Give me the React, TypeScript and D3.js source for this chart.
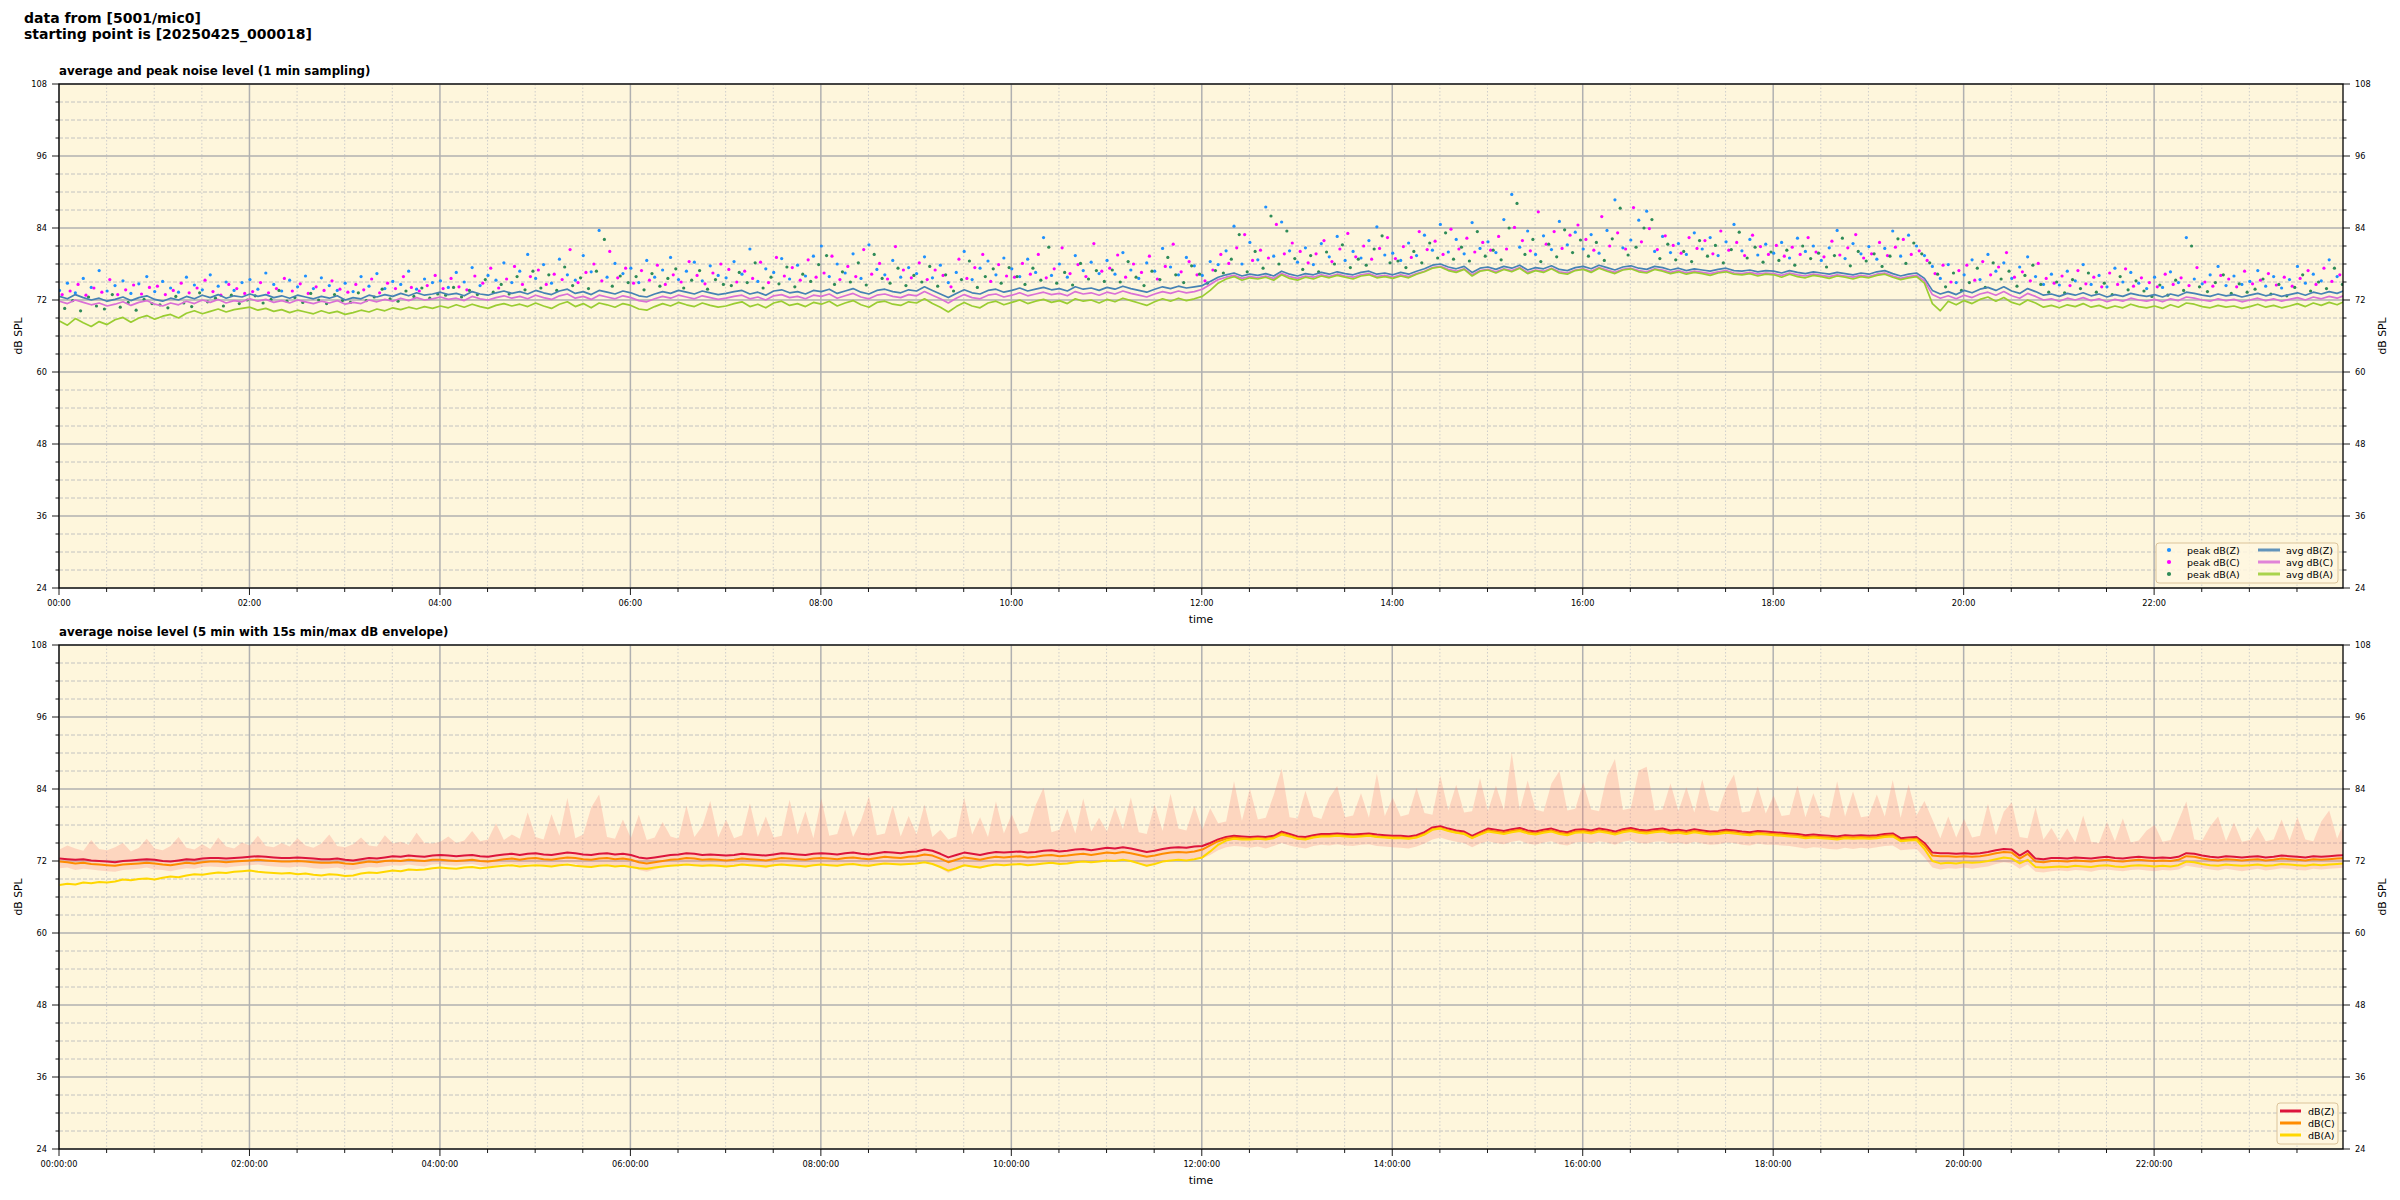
import React from 'react';
import * as d3 from 'd3';

// ---------- time base ----------
const START = new Date(2025, 3, 25, 0, 0, 0);
const END = new Date(2025, 3, 25, 23, 59, 0);
const STEP_MIN = 5;
const FIRST_SEC = 18;
const Y_MIN = 24;
const Y_MAX = 108;

const mainTitle = ['data from [5001/mic0]', 'starting point is [20250425_000018]'];
const topTitle = 'average and peak noise level (1 min sampling)';
const bottomTitle = 'average noise level (5 min with 15s min/max dB envelope)';
const topLegendPeak = ['peak dB(Z)', 'peak dB(C)', 'peak dB(A)'];
const topLegendAvg = ['avg dB(Z)', 'avg dB(C)', 'avg dB(A)'];
const bottomLegend = ['dB(Z)', 'dB(C)', 'dB(A)'];

// minute at which each peak series was read inside every 5-min slot
const peakReadOffsetMin = [0, 1.7, 3.3];

// ---------- top panel (1 min sampling, read every 5 min) ----------
const topAvgZ = [
  72.6, 72.2, 72.9, 72.4, 72.0, 72.3, 71.8, 72.1, 72.5, 71.9, 72.4, 72.7,
  72.1, 71.8, 72.3, 72.0, 72.6, 72.2, 72.8, 72.4, 72.9, 72.3, 72.7, 72.5,
  73.0, 72.6, 72.9, 72.4, 72.7, 72.3, 72.8, 72.5, 72.2, 72.6, 72.3, 72.7,
  72.0, 72.4, 72.2, 72.8, 72.5, 72.9, 72.6, 73.1, 72.7, 73.2, 72.8, 73.0,
  73.3, 72.9, 73.1, 72.7, 73.4, 73.0, 72.8, 73.2, 73.5, 73.1, 73.4, 73.0,
  73.6, 73.2, 72.9, 73.5, 73.8, 73.1, 73.4, 72.9, 73.6, 73.3, 73.0, 73.5,
  73.2, 72.7, 72.5, 73.0, 73.4, 73.1, 73.6, 73.3, 73.0, 73.5, 73.2, 72.9,
  73.1, 73.4, 73.6, 73.0, 73.3, 72.8, 73.5, 73.7, 73.2, 73.4, 73.0, 73.6,
  73.4, 73.8, 73.1, 73.5, 73.9, 73.3, 73.0, 73.6, 73.8, 73.4, 73.2, 73.7,
  73.5, 74.2, 73.6, 73.0, 72.4, 73.1, 73.7, 73.2, 73.0, 73.6, 73.8, 73.3,
  73.6, 74.0, 73.5, 73.8, 74.1, 73.7, 73.9, 73.5, 74.2, 73.8, 74.0, 73.6,
  74.1, 73.8, 74.3, 73.9, 73.6, 73.3, 73.8, 74.2, 73.9, 74.3, 74.0, 74.2,
  74.4, 75.1, 75.8, 76.2, 76.5, 76.0, 76.3, 76.1, 76.4, 76.0, 76.8, 76.3,
  76.0, 76.4, 76.2, 76.6, 76.3, 76.7, 76.4, 76.2, 76.6, 76.8, 76.3, 76.5,
  76.2, 76.6, 76.3, 76.8, 77.2, 77.8, 78.0, 77.5, 77.2, 77.6, 76.6, 77.3,
  77.5, 77.1, 77.6, 77.3, 77.8, 77.0, 77.4, 77.2, 77.7, 77.1, 76.9, 77.4,
  77.6, 77.2, 77.8, 77.4, 77.0, 77.5, 77.7, 77.3, 77.1, 77.6, 77.4, 77.0,
  77.3, 76.9, 77.2, 77.0, 76.8, 77.1, 77.3, 76.9, 76.8, 77.0, 76.7, 76.9,
  76.8, 76.5, 76.9, 76.6, 76.4, 76.7, 76.5, 76.3, 76.6, 76.4, 76.2, 76.5,
  76.3, 76.7, 76.9, 76.4, 76.0, 76.3, 76.5, 75.6, 73.6, 73.0, 73.4, 72.9,
  73.6, 73.2, 73.8, 74.1, 73.6, 74.2, 73.5, 73.1, 73.9, 73.4, 72.8, 73.0,
  72.6, 73.1, 72.8, 73.2, 72.7, 73.0, 72.5, 72.9, 72.6, 73.1, 72.8, 72.6,
  72.9, 72.5, 73.0, 72.7, 73.3, 73.1, 72.8, 72.6, 73.0, 72.7, 72.9, 72.5,
  72.8, 73.1, 72.7, 73.0, 72.6, 72.9, 73.2, 72.8, 73.3, 73.0, 73.4, 73.1,
  73.6,
];
const topAvgC = [
  71.8, 71.4, 72.0, 71.6, 71.2, 71.5, 71.0, 71.3, 71.7, 71.1, 71.6, 71.9,
  71.3, 71.0, 71.5, 71.2, 71.8, 71.4, 72.0, 71.6, 72.1, 71.5, 71.9, 71.7,
  72.2, 71.8, 72.1, 71.6, 71.9, 71.5, 72.0, 71.7, 71.4, 71.8, 71.5, 71.9,
  71.3, 71.6, 71.4, 72.0, 71.7, 72.1, 71.8, 72.3, 71.9, 72.4, 72.0, 72.2,
  72.5, 72.1, 72.3, 71.9, 72.6, 72.2, 72.0, 72.4, 72.7, 72.3, 72.6, 72.2,
  72.8, 72.4, 72.1, 72.7, 73.0, 72.3, 72.6, 72.1, 72.8, 72.5, 72.2, 72.7,
  72.4, 71.9, 71.7, 72.2, 72.6, 72.3, 72.8, 72.5, 72.2, 72.7, 72.4, 72.1,
  72.3, 72.6, 72.8, 72.2, 72.5, 72.0, 72.7, 72.9, 72.4, 72.6, 72.2, 72.8,
  72.6, 73.0, 72.3, 72.7, 73.1, 72.5, 72.2, 72.8, 73.0, 72.6, 72.4, 72.9,
  72.7, 73.4, 72.8, 72.2, 71.5, 72.3, 72.9, 72.4, 72.2, 72.8, 73.0, 72.5,
  72.8, 73.2, 72.7, 73.0, 73.3, 72.9, 73.1, 72.7, 73.4, 73.0, 73.2, 72.8,
  73.3, 73.0, 73.5, 73.1, 72.8, 72.5, 73.0, 73.4, 73.1, 73.5, 73.2, 73.4,
  73.8, 74.6, 75.4, 75.8, 76.1, 75.6, 75.9, 75.7, 76.0, 75.6, 76.4, 75.9,
  75.6, 76.0, 75.8, 76.2, 75.9, 76.3, 76.0, 75.8, 76.2, 76.4, 75.9, 76.1,
  75.8, 76.2, 75.9, 76.4, 76.8, 77.4, 77.6, 77.1, 76.8, 77.2, 76.2, 76.9,
  77.1, 76.7, 77.2, 76.9, 77.4, 76.6, 77.0, 76.8, 77.3, 76.7, 76.5, 77.0,
  77.2, 76.8, 77.4, 77.0, 76.6, 77.1, 77.3, 76.9, 76.7, 77.2, 77.0, 76.6,
  76.9, 76.5, 76.8, 76.6, 76.4, 76.7, 76.9, 76.5, 76.4, 76.6, 76.3, 76.5,
  76.4, 76.1, 76.5, 76.2, 76.0, 76.3, 76.1, 75.9, 76.2, 76.0, 75.8, 76.1,
  75.9, 76.3, 76.5, 76.0, 75.6, 75.9, 76.1, 75.2, 72.9, 72.3, 72.7, 72.2,
  72.8, 72.4, 73.0, 73.3, 72.8, 73.4, 72.7, 72.3, 73.1, 72.6, 72.0, 72.2,
  71.8, 72.3, 72.0, 72.4, 71.9, 72.2, 71.7, 72.1, 71.8, 72.3, 72.0, 71.8,
  72.1, 71.7, 72.2, 71.9, 72.5, 72.3, 72.0, 71.8, 72.2, 71.9, 72.1, 71.7,
  72.0, 72.3, 71.9, 72.2, 71.8, 72.1, 72.4, 72.0, 72.5, 72.2, 72.6, 72.3,
  72.8,
];
const topAvgA = [
  68.5, 67.8, 68.9, 68.2, 67.6, 68.4, 67.9, 68.7, 69.1, 68.3, 69.0, 69.4,
  68.8, 69.3, 69.6, 69.0, 69.8, 70.2, 69.7, 70.1, 70.5, 70.0, 70.4, 70.6,
  70.8, 70.3, 70.6, 70.1, 70.4, 69.9, 70.3, 70.0, 69.7, 70.2, 69.8, 70.1,
  69.6, 69.9, 70.3, 70.0, 70.5, 70.2, 70.7, 70.4, 70.8, 70.5, 70.9, 70.6,
  71.0, 70.7, 71.2, 70.8, 71.3, 70.9, 70.6, 71.1, 71.4, 71.0, 71.3, 70.9,
  71.5, 71.0, 70.6, 71.3, 71.7, 70.9, 71.4, 70.7, 71.5, 71.2, 70.8, 71.4,
  71.1, 70.5, 70.3, 70.9, 71.4, 71.0, 71.6, 71.2, 70.9, 71.5, 71.1, 70.8,
  71.0, 71.4, 71.7, 70.9, 71.3, 70.7, 71.5, 71.8, 71.1, 71.4, 70.9, 71.6,
  71.3, 71.8, 71.0, 71.5, 71.9, 71.2, 70.8, 71.6, 71.8, 71.3, 71.1, 71.7,
  71.5, 72.2, 71.4, 70.8, 70.0, 70.9, 71.6, 71.0, 70.7, 71.5, 71.8, 71.2,
  71.6, 72.0, 71.4, 71.8, 72.1, 71.6, 71.9, 71.4, 72.2, 71.8, 72.0, 71.5,
  72.1, 71.7, 72.3, 71.9, 71.5, 71.1, 71.7, 72.2, 71.8, 72.3, 71.9, 72.2,
  72.6, 73.6, 74.8, 75.5, 75.9, 75.3, 75.7, 75.5, 75.8, 75.3, 76.2, 75.6,
  75.3, 75.8, 75.5, 76.0, 75.7, 76.1, 75.8, 75.5, 76.0, 76.2, 75.7, 75.9,
  75.6, 76.0, 75.7, 76.3, 76.7, 77.3, 77.5, 76.9, 76.6, 77.1, 76.0, 76.8,
  77.0, 76.5, 77.1, 76.7, 77.3, 76.4, 76.9, 76.6, 77.2, 76.5, 76.3, 76.9,
  77.1, 76.6, 77.3, 76.8, 76.4, 77.0, 77.2, 76.7, 76.5, 77.1, 76.8, 76.4,
  76.7, 76.3, 76.6, 76.4, 76.1, 76.5, 76.7, 76.3, 76.2, 76.4, 76.0, 76.3,
  76.2, 75.8, 76.3, 75.9, 75.7, 76.1, 75.9, 75.6, 76.0, 75.8, 75.5, 75.9,
  75.7, 76.1, 76.3, 75.8, 75.4, 75.7, 75.9, 74.8, 71.4, 70.2, 71.8, 71.2,
  71.9, 71.4, 72.1, 72.5, 71.8, 72.4, 71.6, 71.2, 72.0, 71.5, 70.8, 71.1,
  70.7, 71.2, 70.9, 71.4, 70.8, 71.1, 70.6, 71.0, 70.7, 71.3, 70.9, 70.7,
  71.0, 70.6, 71.2, 70.8, 71.5, 71.3, 70.9, 70.7, 71.1, 70.8, 71.0, 70.6,
  70.9, 71.3, 70.8, 71.1, 70.7, 71.0, 71.4, 70.9, 71.5, 71.1, 71.6, 71.2,
  71.8,
];
const topPeakZ = [
  73.6, 74.8, 73.2, 75.6, 74.1, 76.9, 73.5, 74.4, 75.2, 73.1, 74.7, 75.9,
  73.4, 75.1, 74.0, 73.3, 75.8, 74.5, 73.7, 76.2, 74.3, 75.0, 73.6, 74.9,
  75.4, 73.8, 76.5, 74.6, 73.5, 75.3, 74.2, 76.0, 73.9, 75.7, 74.4, 73.6,
  74.8, 73.4, 75.9, 74.3, 76.4, 73.9, 75.1, 74.6, 76.8, 73.8, 75.5, 74.9,
  75.2, 74.1, 76.6, 75.0, 77.4, 74.4, 76.1, 75.3, 78.2, 74.9, 76.8, 79.6,
  75.6, 77.9, 74.8, 78.8, 76.2, 75.3, 79.4, 76.7, 83.6, 75.8, 78.1, 76.4,
  77.3, 74.9, 78.6, 75.8, 77.0, 79.1, 75.4, 76.8, 78.3, 75.2, 77.7, 76.1,
  75.7, 78.4, 76.3, 80.5, 75.1, 77.2, 76.6, 78.9, 75.5, 77.8, 76.0, 79.3,
  81.0, 75.9, 78.0, 76.5, 79.7, 75.6, 81.2, 77.1, 76.2, 78.6, 75.8, 77.4,
  76.4, 79.2, 75.7, 77.8, 74.9, 76.6, 80.1, 75.4, 77.3, 78.5, 76.2, 79.0,
  77.2, 75.9, 78.8, 76.6, 82.4, 76.1, 78.0, 75.8, 79.4, 76.9, 78.3, 76.4,
  78.6, 76.3, 79.9, 77.0, 75.6, 78.2, 76.8, 80.6, 77.5, 76.2, 79.1, 77.7,
  76.1, 78.4, 77.9, 80.2, 84.3, 78.0, 81.6, 78.7, 87.5, 79.3, 85.0, 80.2,
  78.3, 80.7, 77.9, 81.4, 79.2, 82.6, 78.6, 80.1, 79.0, 81.9, 84.2, 79.5,
  79.8, 78.6, 81.5, 79.4, 82.8, 80.3, 84.6, 80.0, 82.1, 79.7, 84.9, 80.6,
  81.7, 79.9, 85.4, 89.6, 80.8, 83.5, 79.6, 82.7, 80.4, 85.1, 81.2, 83.3,
  80.5, 82.9, 79.8, 83.6, 88.7, 80.7, 82.0, 85.3, 86.8, 80.1, 82.6, 79.9,
  81.4, 79.6, 83.2, 80.5, 82.4, 79.4, 81.7, 84.6, 80.2, 82.1, 79.5, 81.3,
  79.8, 81.6, 79.0, 82.3, 80.1, 81.0, 78.6, 80.7, 83.6, 78.9, 81.4, 79.7,
  80.9, 78.8, 80.6, 83.5, 79.3, 82.8, 81.0, 79.4, 77.6, 75.6, 77.9, 74.9,
  76.2, 78.7, 75.4, 79.6, 76.8, 78.2, 75.6, 77.5, 79.2, 75.9, 74.6, 76.3,
  74.5, 76.8, 75.2, 77.9, 74.6, 76.1, 74.2, 77.3, 75.0, 76.6, 74.8, 73.9,
  75.8, 74.1, 76.7, 74.9, 82.4, 75.5, 74.7, 76.2, 77.6, 74.4, 76.0, 74.6,
  75.1, 76.9, 74.3, 75.9, 74.0, 75.4, 77.6, 74.8, 76.3, 75.2, 78.7, 75.9,
  76.5,
];
const topPeakC = [
  72.9, 73.5, 74.6, 72.8, 74.0, 73.3, 75.4, 72.9, 73.7, 74.5, 73.0, 74.1,
  74.3, 72.9, 73.6, 74.8, 73.2, 74.0, 75.3, 73.4, 72.8, 74.6, 73.9, 73.1,
  73.4, 74.9, 73.2, 73.9, 75.6, 73.5, 74.7, 73.1, 74.2, 73.6, 75.2, 73.8,
  73.3, 74.6, 73.7, 75.5, 73.2, 74.8, 73.9, 75.9, 74.1, 73.5, 74.4, 76.1,
  73.9, 75.6, 74.2, 73.7, 76.0, 74.8, 77.3, 74.0, 75.5, 77.6, 74.6, 75.9,
  77.0, 74.6, 76.3, 75.4, 80.4, 74.9, 76.6, 78.0, 75.2, 80.1, 75.7, 77.3,
  74.8, 76.9, 75.3, 77.8, 74.6, 76.2, 75.0, 78.4, 76.1, 74.7, 76.5, 78.0,
  77.1, 75.0, 76.8, 75.6, 78.3, 74.9, 79.1, 76.0, 77.4, 75.3, 78.7, 75.8,
  76.5, 79.3, 75.4, 77.6, 75.9, 80.4, 76.3, 78.1, 75.5, 80.9, 77.0, 75.7,
  78.2, 75.4, 77.0, 76.1, 74.2, 78.8, 75.6, 77.4, 79.6, 75.1, 77.9, 76.0,
  75.8, 78.1, 76.3, 79.6, 75.7, 77.2, 80.7, 76.4, 77.9, 75.9, 81.4, 76.8,
  77.3, 79.5, 75.8, 78.0, 76.6, 79.3, 75.5, 77.6, 81.3, 76.7, 78.4, 76.2,
  75.2, 77.0, 79.6, 78.1, 80.7, 82.9, 78.6, 80.3, 79.0, 84.6, 79.7, 81.5,
  80.1, 78.2, 79.7, 81.9, 78.4, 80.5, 83.1, 79.2, 81.0, 78.8, 80.6, 82.4,
  78.9, 80.9, 79.1, 83.4, 80.4, 81.8, 79.6, 83.8, 80.5, 82.3, 80.0, 81.6,
  80.3, 82.6, 80.5, 84.1, 81.9, 80.2, 86.7, 81.3, 83.4, 80.6, 82.8, 84.5,
  82.1, 80.3, 85.9, 81.0, 83.2, 80.5, 87.4, 81.7, 83.9, 80.4, 82.7, 81.1,
  79.8, 82.4, 80.6, 81.9, 79.7, 83.5, 80.3, 81.6, 79.4, 82.8, 80.9, 79.6,
  81.1, 79.3, 80.8, 79.6, 82.4, 80.0, 79.2, 81.8, 79.5, 80.7, 82.9, 79.0,
  79.7, 81.6, 79.4, 80.8, 82.1, 79.6, 80.2, 78.6, 76.4, 77.8, 75.0, 76.9,
  77.8, 75.3, 78.4, 76.2, 77.5, 79.9, 75.8, 76.7, 75.2, 78.1, 75.6, 74.8,
  76.0, 74.4, 76.9, 74.7, 75.8, 74.2, 76.5, 74.6, 77.2, 74.3, 75.7, 74.9,
  74.2, 76.3, 74.6, 75.7, 74.4, 77.4, 75.0, 74.3, 76.1, 75.5, 74.2, 76.8,
  74.7, 75.3, 76.4, 74.5, 75.8, 74.3, 75.6, 76.9, 74.6, 77.3, 75.1, 76.2,
  75.4,
];
const topPeakA = [
  70.6, 71.9, 70.2, 72.5, 71.0, 70.5, 72.9, 70.8, 71.6, 70.3, 72.1, 71.4,
  71.2, 70.7, 72.6, 71.5, 70.9, 73.2, 71.7, 72.3, 71.0, 72.8, 71.4, 72.0,
  72.7, 71.5, 72.1, 73.6, 71.8, 72.4, 71.6, 73.1, 72.0, 71.4, 72.9, 71.9,
  71.6, 73.2, 71.9, 72.5, 73.8, 72.2, 71.8, 73.5, 72.6, 74.0, 72.3, 73.0,
  72.8, 74.1, 72.5, 73.6, 72.9, 75.4, 73.3, 74.6, 73.0, 75.9, 73.7, 76.8,
  74.0, 76.2, 73.6, 77.5, 74.4, 75.7, 73.9, 76.8, 82.1, 74.3, 76.0, 74.9,
  75.9, 73.7, 76.4, 74.3, 75.6, 77.2, 74.0, 75.3, 76.9, 73.8, 75.4, 74.6,
  74.4, 76.6, 74.9, 78.2, 74.0, 75.8, 74.7, 77.5, 74.2, 76.3, 75.1, 77.9,
  79.4, 74.6, 76.7, 75.0, 78.2, 74.5, 79.6, 75.6, 74.8, 77.3, 74.4, 76.1,
  75.0, 77.6, 74.3, 76.2, 73.5, 75.4, 78.5, 74.1, 75.9, 77.2, 74.8, 77.4,
  75.9, 74.6, 77.3, 75.3, 80.8, 74.8, 76.6, 74.5, 78.1, 75.5, 76.9, 75.1,
  77.0, 75.0, 78.4, 75.8, 74.4, 76.8, 75.4, 79.1, 76.2, 74.9, 77.7, 76.3,
  74.8, 76.9, 76.5, 78.8, 82.9, 76.7, 80.1, 77.3, 86.0, 78.0, 83.5, 78.9,
  77.1, 79.4, 76.7, 80.0, 78.0, 81.2, 77.4, 78.8, 77.8, 80.5, 82.7, 78.2,
  78.5, 77.4, 80.1, 78.2, 81.5, 79.0, 83.2, 78.8, 80.8, 78.5, 83.4, 79.3,
  80.3, 78.7, 84.0, 88.1, 79.6, 82.1, 78.4, 81.3, 79.2, 83.7, 79.9, 82.0,
  79.3, 81.6, 78.6, 82.2, 87.3, 79.5, 80.8, 84.0, 85.4, 78.9, 81.3, 78.7,
  80.1, 78.4, 81.9, 79.3, 81.1, 78.2, 80.4, 83.3, 79.0, 80.8, 78.3, 80.0,
  78.6, 80.3, 77.8, 81.0, 78.9, 79.8, 77.5, 79.4, 82.3, 77.7, 80.1, 78.5,
  79.7, 77.6, 79.3, 82.2, 78.1, 81.5, 79.7, 78.2, 76.3, 74.2, 76.5, 73.6,
  74.9, 77.3, 74.1, 78.2, 75.5, 76.8, 74.3, 76.1, 77.8, 74.6, 73.3, 75.0,
  73.2, 75.4, 73.9, 76.5, 73.3, 74.8, 72.9, 75.9, 73.7, 75.2, 73.5, 72.6,
  74.5, 72.8, 75.3, 73.6, 81.0, 74.2, 73.4, 74.9, 76.2, 73.1, 74.7, 73.3,
  73.8, 75.5, 73.0, 74.6, 72.7, 74.1, 76.2, 73.5, 75.0, 73.9, 77.3, 74.6,
  75.2,
];

// ---------- bottom panel (5 min averages + envelope) ----------
const botZ = [
  72.4, 72.3, 72.2, 72.3, 72.1, 72.0, 71.9, 71.8, 72.0, 72.1, 72.2, 72.3,
  72.2, 72.0, 71.9, 72.1, 72.3, 72.2, 72.4, 72.5, 72.5, 72.4, 72.5, 72.6,
  72.7, 72.8, 72.7, 72.6, 72.5, 72.5, 72.6, 72.5, 72.4, 72.3, 72.3, 72.4,
  72.2, 72.1, 72.3, 72.5, 72.4, 72.6, 72.8, 72.7, 72.9, 72.8, 72.7, 72.9,
  73.0, 72.9, 72.8, 72.9, 73.0, 72.8, 72.7, 72.9, 73.1, 73.2, 73.0, 73.2,
  73.3, 73.1, 73.0, 73.2, 73.4, 73.3, 73.1, 73.0, 73.2, 73.3, 73.1, 73.2,
  73.0, 72.6, 72.4, 72.6, 72.8, 73.0, 73.1, 73.3, 73.2, 73.0, 73.1, 73.0,
  72.9, 73.0, 73.2, 73.1, 73.0, 72.9, 73.1, 73.3, 73.2, 73.1, 73.0, 73.2,
  73.3, 73.2, 73.1, 73.3, 73.4, 73.2, 73.1, 73.3, 73.5, 73.4, 73.3, 73.5,
  73.6, 73.9, 73.7, 73.2, 72.6, 73.0, 73.4, 73.2, 73.0, 73.3, 73.5, 73.4,
  73.5, 73.6, 73.4, 73.5, 73.7, 73.8, 73.6, 73.7, 73.9, 74.0, 73.8, 74.0,
  74.2, 74.1, 74.3, 74.1, 73.8, 73.5, 73.7, 74.0, 74.2, 74.3, 74.2, 74.4,
  74.5, 75.0, 75.6, 76.0, 76.2, 76.1, 76.0, 76.1, 76.0, 76.2, 76.9, 76.5,
  76.1, 76.0, 76.3, 76.5, 76.5, 76.6, 76.5, 76.4, 76.5, 76.6, 76.4, 76.3,
  76.2, 76.2, 76.1, 76.3, 76.8, 77.6, 77.8, 77.4, 77.1, 76.9, 76.2, 76.8,
  77.4, 77.2, 77.0, 77.3, 77.5, 77.1, 76.9, 77.2, 77.4, 77.0, 76.8, 77.2,
  77.3, 77.1, 77.4, 77.2, 76.9, 77.3, 77.5, 77.2, 77.1, 77.3, 77.4, 77.1,
  77.2, 77.0, 77.3, 77.1, 76.9, 77.0, 77.2, 77.1, 76.9, 76.8, 77.0, 76.9,
  76.8, 76.7, 76.6, 76.5, 76.3, 76.4, 76.3, 76.2, 76.1, 76.3, 76.2, 76.3,
  76.2, 76.3, 76.5, 76.6, 75.8, 75.9, 76.0, 75.0, 73.4, 73.3, 73.3, 73.2,
  73.3, 73.2, 73.3, 73.5, 73.8, 74.0, 73.9, 72.9, 73.7, 72.4, 72.3, 72.5,
  72.5, 72.4, 72.6, 72.5, 72.4, 72.6, 72.7, 72.5, 72.4, 72.6, 72.7, 72.6,
  72.5, 72.6, 72.5, 72.7, 73.3, 73.2, 72.9, 72.7, 72.6, 72.8, 72.7, 72.6,
  72.7, 72.8, 72.6, 72.7, 72.9, 72.8, 72.7, 72.6, 72.8, 72.7, 72.8, 72.9,
  73.0,
];
const botC = [
  71.9, 71.8, 71.6, 71.7, 71.5, 71.4, 71.3, 71.2, 71.4, 71.5, 71.6, 71.7,
  71.6, 71.4, 71.3, 71.5, 71.7, 71.6, 71.8, 71.9, 71.9, 71.8, 71.9, 72.0,
  72.1, 72.2, 72.1, 72.0, 71.9, 71.9, 72.0, 71.9, 71.8, 71.7, 71.7, 71.8,
  71.6, 71.5, 71.7, 71.9, 71.8, 72.0, 72.1, 72.0, 72.2, 72.1, 72.0, 72.2,
  72.2, 72.1, 72.0, 72.1, 72.2, 72.0, 71.9, 72.1, 72.3, 72.4, 72.2, 72.4,
  72.5, 72.3, 72.2, 72.4, 72.6, 72.5, 72.3, 72.2, 72.4, 72.5, 72.3, 72.4,
  72.2, 71.8, 71.6, 71.8, 72.0, 72.2, 72.3, 72.5, 72.4, 72.2, 72.3, 72.2,
  72.1, 72.2, 72.4, 72.3, 72.2, 72.1, 72.3, 72.5, 72.4, 72.3, 72.2, 72.4,
  72.5, 72.4, 72.3, 72.5, 72.6, 72.4, 72.3, 72.5, 72.7, 72.6, 72.5, 72.7,
  72.8, 73.1, 72.9, 72.4, 71.8, 72.2, 72.6, 72.4, 72.2, 72.5, 72.7, 72.6,
  72.7, 72.8, 72.6, 72.7, 72.9, 73.0, 72.8, 72.9, 73.1, 73.2, 73.0, 73.2,
  73.4, 73.3, 73.5, 73.3, 73.0, 72.7, 72.9, 73.2, 73.4, 73.5, 73.4, 73.6,
  73.9, 74.6, 75.3, 75.7, 75.9, 75.8, 75.7, 75.8, 75.7, 75.9, 76.6, 76.2,
  75.8, 75.7, 76.0, 76.2, 76.2, 76.3, 76.2, 76.1, 76.2, 76.3, 76.1, 76.0,
  75.9, 75.9, 75.8, 76.0, 76.5, 77.3, 77.5, 77.1, 76.8, 76.6, 75.9, 76.5,
  77.1, 76.9, 76.7, 77.0, 77.2, 76.8, 76.6, 76.9, 77.1, 76.7, 76.5, 76.9,
  77.0, 76.8, 77.1, 76.9, 76.6, 77.0, 77.2, 76.9, 76.8, 77.0, 77.1, 76.8,
  76.9, 76.7, 77.0, 76.8, 76.6, 76.7, 76.9, 76.8, 76.6, 76.5, 76.7, 76.6,
  76.5, 76.4, 76.3, 76.2, 76.0, 76.1, 76.0, 75.9, 75.8, 76.0, 75.9, 76.0,
  75.9, 76.0, 76.2, 76.3, 75.5, 75.6, 75.7, 74.6, 72.9, 72.8, 72.8, 72.7,
  72.8, 72.7, 72.8, 73.0, 73.3, 73.5, 73.4, 72.4, 73.2, 71.9, 71.8, 72.0,
  72.0, 71.9, 72.1, 72.0, 71.9, 72.1, 72.2, 72.0, 71.9, 72.1, 72.2, 72.1,
  72.0, 72.1, 72.0, 72.2, 72.8, 72.7, 72.4, 72.2, 72.1, 72.3, 72.2, 72.1,
  72.2, 72.3, 72.1, 72.2, 72.4, 72.3, 72.2, 72.1, 72.3, 72.2, 72.3, 72.4,
  72.5,
];
const botA = [
  68.0, 68.2, 68.1, 68.4, 68.3, 68.5, 68.4, 68.6, 68.9, 68.8, 69.0, 69.1,
  68.9, 69.2, 69.4, 69.3, 69.6, 69.8, 69.7, 69.9, 70.1, 70.0, 70.2, 70.3,
  70.4, 70.2, 70.1, 70.0, 69.9, 70.0, 69.8, 69.9, 69.7, 69.6, 69.8, 69.7,
  69.5, 69.6, 69.9, 70.1, 70.0, 70.2, 70.4, 70.3, 70.6, 70.5, 70.6, 70.8,
  70.9, 70.8, 70.7, 70.9, 71.0, 70.8, 70.9, 71.1, 71.2, 71.3, 71.1, 71.2,
  71.3, 71.2, 71.1, 71.3, 71.4, 71.2, 71.1, 71.0, 71.2, 71.3, 71.1, 71.2,
  71.0, 70.8, 70.7, 70.9, 71.1, 71.2, 71.3, 71.4, 71.3, 71.2, 71.3, 71.2,
  71.1, 71.2, 71.4, 71.3, 71.2, 71.1, 71.3, 71.4, 71.3, 71.2, 71.1, 71.3,
  71.4, 71.3, 71.2, 71.4, 71.5, 71.3, 71.2, 71.4, 71.6, 71.5, 71.4, 71.5,
  71.6, 71.8, 71.5, 71.0, 70.4, 70.8, 71.3, 71.1, 70.9, 71.2, 71.4, 71.3,
  71.4, 71.5, 71.3, 71.4, 71.6, 71.7, 71.5, 71.6, 71.8, 71.9, 71.8, 71.9,
  72.1, 72.0, 72.2, 72.0, 71.6, 71.2, 71.5, 71.9, 72.1, 72.2, 72.1, 72.3,
  72.6, 73.6, 74.7, 75.4, 75.7, 75.6, 75.6, 75.7, 75.6, 75.8, 76.4, 76.1,
  75.7, 75.6, 75.9, 76.1, 76.1, 76.2, 76.1, 76.0, 76.1, 76.2, 76.0, 75.9,
  75.8, 75.8, 75.7, 75.9, 76.4, 77.2, 77.4, 77.0, 76.7, 76.5, 75.8, 76.4,
  76.9, 76.7, 76.5, 76.8, 77.0, 76.6, 76.4, 76.7, 76.9, 76.5, 76.3, 76.7,
  76.8, 76.6, 76.9, 76.7, 76.4, 76.8, 77.0, 76.7, 76.6, 76.8, 76.9, 76.6,
  76.7, 76.5, 76.8, 76.6, 76.4, 76.5, 76.7, 76.6, 76.4, 76.3, 76.5, 76.4,
  76.3, 76.2, 76.1, 76.0, 75.8, 75.9, 75.8, 75.7, 75.6, 75.8, 75.7, 75.8,
  75.7, 75.8, 76.0, 76.1, 75.3, 75.4, 75.5, 74.0, 72.0, 71.6, 71.7, 71.6,
  71.8, 71.7, 71.8, 72.0, 72.3, 72.6, 72.4, 71.6, 72.2, 71.0, 70.9, 71.0,
  71.1, 71.0, 71.2, 71.1, 71.0, 71.2, 71.3, 71.1, 71.0, 71.2, 71.3, 71.2,
  71.1, 71.2, 71.1, 71.3, 71.9, 71.8, 71.5, 71.3, 71.2, 71.4, 71.3, 71.2,
  71.3, 71.4, 71.2, 71.3, 71.5, 71.4, 71.3, 71.2, 71.4, 71.3, 71.4, 71.5,
  71.6,
];
const envMin = [
  70.8, 70.9, 70.5, 70.7, 70.6, 70.4, 70.3, 70.2, 70.5, 70.6, 70.7, 70.9,
  70.6, 70.5, 70.3, 70.6, 70.8, 70.7, 71.0, 71.1, 71.0, 70.9, 71.1, 71.2,
  71.3, 71.4, 71.2, 71.1, 71.0, 70.9, 71.1, 71.0, 70.8, 70.7, 70.8, 70.9,
  70.6, 70.5, 70.8, 71.0, 70.9, 71.1, 71.3, 71.2, 71.4, 71.2, 71.1, 71.4,
  71.5, 71.3, 71.2, 71.4, 71.5, 71.2, 71.0, 71.3, 71.5, 71.6, 71.3, 71.5,
  71.6, 71.2, 71.0, 71.4, 71.7, 71.5, 71.0, 70.9, 71.3, 71.5, 71.1, 71.4,
  71.1, 70.5, 70.2, 70.6, 70.9, 71.2, 71.4, 71.6, 71.3, 71.0, 71.2, 71.1,
  70.9, 71.1, 71.4, 71.2, 71.0, 70.8, 71.2, 71.5, 71.3, 71.1, 70.9, 71.3,
  71.5, 71.3, 71.1, 71.4, 71.6, 71.2, 71.0, 71.4, 71.7, 71.5, 71.3, 71.6,
  71.8, 72.0, 71.5, 70.8, 70.0, 70.6, 71.3, 71.0, 70.7, 71.2, 71.5, 71.3,
  71.5, 71.6, 71.2, 71.4, 71.7, 71.8, 71.5, 71.6, 71.9, 72.0, 71.7, 72.0,
  72.2, 72.0, 72.3, 72.0, 71.5, 71.1, 71.4, 71.9, 72.2, 72.3, 72.1, 72.4,
  72.4, 73.0, 73.8, 74.3, 74.5, 74.4, 74.2, 74.4, 74.1, 74.5, 75.0, 74.6,
  74.3, 74.1, 74.5, 74.7, 74.6, 74.8, 74.6, 74.5, 74.7, 74.8, 74.5, 74.4,
  74.3, 74.2, 74.1, 74.4, 74.9, 75.6, 75.9, 75.5, 75.2, 75.0, 74.3, 74.9,
  75.3, 75.0, 74.8, 75.2, 75.4, 74.9, 74.7, 75.1, 75.3, 74.8, 74.6, 75.1,
  75.2, 74.9, 75.3, 75.1, 74.7, 75.2, 75.4, 75.0, 74.9, 75.2, 75.3, 74.9,
  75.1, 74.8, 75.2, 74.9, 74.7, 74.8, 75.1, 75.0, 74.7, 74.6, 74.9, 74.7,
  74.7, 74.6, 74.5, 74.3, 74.1, 74.3, 74.2, 74.0, 73.9, 74.2, 74.0, 74.2,
  74.1, 74.3, 74.5, 74.6, 73.8, 73.9, 74.0, 72.6, 70.9, 70.6, 70.8, 70.7,
  70.9, 70.7, 70.9, 71.1, 71.5, 71.8, 71.6, 70.7, 71.4, 70.2, 70.1, 70.3,
  70.4, 70.3, 70.5, 70.4, 70.2, 70.5, 70.6, 70.4, 70.3, 70.5, 70.6, 70.4,
  70.3, 70.5, 70.4, 70.6, 71.2, 71.0, 70.8, 70.6, 70.4, 70.7, 70.5, 70.3,
  70.5, 70.7, 70.4, 70.6, 70.8, 70.7, 70.5, 70.4, 70.7, 70.6, 70.7, 70.8,
  70.9,
];
const envMax = [
  73.9, 74.6, 74.1, 73.7, 75.5, 74.0, 73.8, 74.3, 75.0, 73.6, 74.2, 75.7,
  74.1, 73.8, 74.5, 76.0, 74.2, 73.9, 74.8, 74.0, 75.9, 74.4, 74.1, 75.1,
  74.6, 76.2, 74.5, 74.3, 75.0, 74.4, 75.8, 74.6, 74.2, 74.9, 76.4, 74.5,
  74.3, 74.8, 75.9, 74.6, 74.4, 76.3, 74.9, 75.2, 74.7, 76.7, 75.0, 74.9,
  75.2, 76.1, 75.0, 75.4, 77.0, 75.3, 75.6, 78.3, 75.5, 76.4, 75.7, 80.1,
  76.0, 75.6, 79.8, 76.2, 82.5, 75.8, 76.4, 80.9, 83.1, 76.0, 75.7, 78.9,
  75.8, 79.7, 75.5, 75.9, 78.5, 76.1, 75.7, 81.2, 76.0, 77.8, 82.0, 75.9,
  78.9, 75.8, 76.3, 81.6, 76.0, 79.4, 75.9, 76.2, 82.2, 76.4, 80.3, 75.8,
  82.4, 76.2, 76.5, 80.6, 76.0, 78.7, 82.8, 76.3, 76.6, 81.2, 76.1, 79.5,
  76.4, 81.4, 76.0, 77.2, 75.6, 76.1, 82.6, 76.4, 79.3, 76.0, 81.9, 76.6,
  79.8, 76.5, 76.9, 81.3, 84.2, 76.8, 77.2, 80.7, 76.6, 82.4, 76.9, 79.2,
  76.9, 81.0, 77.3, 82.6, 76.8, 76.5, 81.4, 77.0, 83.2, 77.4, 77.1, 81.2,
  77.2, 80.8, 78.3, 78.6, 85.3, 78.7, 84.1, 78.9, 79.2, 83.0, 87.4, 79.3,
  79.1, 83.7, 79.4, 79.0, 82.5, 84.5, 79.3, 79.6, 83.3, 79.2, 86.6, 79.5,
  82.6, 79.4, 79.8, 84.2, 80.0, 79.7, 86.2, 80.4, 84.7, 80.1, 80.3, 85.8,
  80.3, 84.6, 80.5, 90.1, 80.4, 85.4, 80.6, 80.2, 84.9, 87.0, 80.4, 80.7,
  85.1, 80.6, 80.3, 86.2, 89.0, 80.5, 80.8, 87.1, 87.7, 80.4, 80.6, 84.9,
  80.3, 84.3, 80.1, 85.6, 80.5, 80.2, 84.1, 86.4, 80.1, 80.3, 84.4, 79.9,
  82.9, 79.5, 79.7, 84.6, 79.3, 83.3, 79.6, 79.2, 85.3, 79.4, 83.6, 79.3,
  79.5, 83.1, 79.4, 85.5, 79.2, 84.8, 79.6, 82.0, 78.9, 75.8, 79.4, 75.9,
  79.0, 75.9, 76.2, 81.5, 76.3, 80.2, 81.8, 76.0, 75.8, 80.9, 75.6, 77.5,
  75.3, 77.4, 75.1, 79.6, 75.2, 75.0, 78.5, 75.3, 79.1, 75.1, 75.4, 77.1,
  78.0, 75.2, 75.5, 78.7, 81.9, 75.6, 75.4, 77.8, 79.4, 75.3, 78.4, 75.2,
  75.5, 77.7, 75.3, 75.6, 78.9, 75.4, 79.3, 75.6, 75.3, 78.6, 80.4, 75.7,
  79.0,
];

// ---------- styling ----------
const FONT = "'DejaVu Sans', 'Liberation Sans', sans-serif";
const BG = '#fef6dc';
const LEFT = 59;
const RIGHT = 2343;
const P1 = { top: 84, bottom: 588 };
const P2 = { top: 645, bottom: 1149 };

const peakColors = ['#1e90ff', '#ff00ff', '#2e8b57'];
const avgColors = ['#4682b4', '#da70d6', '#9acd32'];
const botColors = ['#dc143c', '#ff8c00', '#ffd700'];

const timeAt = (i: number, offsetMin = 0) =>
  new Date(START.getTime() + (i * STEP_MIN * 60 + FIRST_SEC + offsetMin * 60) * 1000);

type Scales = { x: d3.ScaleTime<number, number>; y: d3.ScaleLinear<number, number> };

function Panel(props: {
  top: number;
  bottom: number;
  tickFmt: string;
  title: string;
  titleY: number;
  clipId: string;
  render: (s: Scales) => React.ReactNode;
}) {
  const { top, bottom, tickFmt, title, titleY, clipId, render } = props;
  const x = d3.scaleTime().domain([START, END]).range([LEFT, RIGHT]);
  const y = d3.scaleLinear().domain([Y_MIN, Y_MAX]).range([bottom, top]);
  const fmt = d3.timeFormat(tickFmt);
  const majorX = d3.timeHour.every(2)!.range(START, END);
  const minorX = d3
    .timeMinute.every(30)!
    .range(START, END)
    .filter((d) => !(d.getMinutes() === 0 && d.getHours() % 2 === 0));
  const yAll = d3.range(Y_MIN, Y_MAX + 0.01, 3);
  const majorY = yAll.filter((v) => v % 12 === 0);
  const minorY = yAll.filter((v) => v % 12 !== 0);
  const midY = (top + bottom) / 2;
  return (
    <g>
      <defs>
        <clipPath id={clipId}>
          <rect x={LEFT} y={top} width={RIGHT - LEFT} height={bottom - top} />
        </clipPath>
      </defs>
      <rect x={LEFT} y={top} width={RIGHT - LEFT} height={bottom - top} fill={BG} />
      {minorX.map((d, i) => (
        <line key={'mx' + i} x1={x(d)} x2={x(d)} y1={top} y2={bottom} stroke="#c9c9c9" strokeWidth={0.9} strokeDasharray="1.5,2" />
      ))}
      {minorY.map((v, i) => (
        <line key={'my' + i} x1={LEFT} x2={RIGHT} y1={y(v)} y2={y(v)} stroke="#bdbdbd" strokeWidth={0.9} strokeDasharray="4,2" />
      ))}
      {majorX.map((d, i) => (
        <line key={'Mx' + i} x1={x(d)} x2={x(d)} y1={top} y2={bottom} stroke="#b0b0b0" strokeWidth={1.5} />
      ))}
      {majorY.map((v, i) => (
        <line key={'My' + i} x1={LEFT} x2={RIGHT} y1={y(v)} y2={y(v)} stroke="#b0b0b0" strokeWidth={1.5} />
      ))}
      <g clipPath={`url(#${clipId})`}>{render({ x, y })}</g>
      <rect x={LEFT} y={top} width={RIGHT - LEFT} height={bottom - top} fill="none" stroke="#000" strokeWidth={1.3} />
      {yAll.map((v, i) => {
        const major = v % 12 === 0;
        const len = major ? 7 : 3.5;
        return (
          <g key={'yt' + i}>
            <line x1={LEFT - len} x2={LEFT} y1={y(v)} y2={y(v)} stroke="#000" strokeWidth={0.9} />
            <line x1={RIGHT} x2={RIGHT + len} y1={y(v)} y2={y(v)} stroke="#000" strokeWidth={0.9} />
          </g>
        );
      })}
      {majorY.map((v, i) => (
        <g key={'yl' + i} fontFamily={FONT} fontSize={8.2} fill="#000">
          <text x={LEFT - 12} y={y(v)} textAnchor="end" dominantBaseline="central">{v}</text>
          <text x={RIGHT + 12} y={y(v)} textAnchor="start" dominantBaseline="central">{v}</text>
        </g>
      ))}
      {majorX.map((d, i) => (
        <g key={'xt' + i}>
          <line x1={x(d)} x2={x(d)} y1={bottom} y2={bottom + 7} stroke="#000" strokeWidth={0.9} />
          <text x={x(d)} y={bottom + 15} textAnchor="middle" dominantBaseline="central" fontFamily={FONT} fontSize={8.2} fill="#000">
            {fmt(d)}
          </text>
        </g>
      ))}
      {minorX.map((d, i) => (
        <line key={'xm' + i} x1={x(d)} x2={x(d)} y1={bottom} y2={bottom + 4} stroke="#000" strokeWidth={0.9} />
      ))}
      <text x={(LEFT + RIGHT) / 2} y={bottom + 31} textAnchor="middle" dominantBaseline="central" fontFamily={FONT} fontSize={10.8}>
        time
      </text>
      <text transform={`translate(18,${midY}) rotate(-90)`} textAnchor="middle" dominantBaseline="central" fontFamily={FONT} fontSize={10.8}>
        dB SPL
      </text>
      <text transform={`translate(2382,${midY}) rotate(-90)`} textAnchor="middle" dominantBaseline="central" fontFamily={FONT} fontSize={10.8}>
        dB SPL
      </text>
      <text x={LEFT} y={titleY} fontFamily={FONT} fontSize={11.8} fontWeight="bold">
        {title}
      </text>
    </g>
  );
}

const idx = d3.range(topAvgZ.length);

function TopContent({ x, y }: Scales) {
  const peaks = [topPeakZ, topPeakC, topPeakA];
  const avgs = [topAvgZ, topAvgC, topAvgA];
  return (
    <g>
      {peaks.map((arr, s) => (
        <g key={'p' + s} fill={peakColors[s]}>
          {arr.map((v, i) => (
            <circle key={i} cx={x(timeAt(i, peakReadOffsetMin[s]))} cy={y(v)} r={1.6} />
          ))}
        </g>
      ))}
      {avgs.map((arr, s) => {
        const line = d3
          .line<number>()
          .x((i) => x(timeAt(i)))
          .y((i) => y(arr[i]));
        return <path key={'a' + s} d={line(idx) || ''} fill="none" stroke={avgColors[s]} strokeWidth={1.7} strokeLinejoin="round" />;
      })}
    </g>
  );
}

function BottomContent({ x, y }: Scales) {
  const area = d3
    .area<number>()
    .x((i) => x(timeAt(i)))
    .y0((i) => y(envMin[i]))
    .y1((i) => y(envMax[i]));
  const series = [botZ, botC, botA];
  return (
    <g>
      <path d={area(idx) || ''} fill="#fa8072" fillOpacity={0.27} stroke="none" />
      {series.map((arr, s) => {
        const line = d3
          .line<number>()
          .x((i) => x(timeAt(i)))
          .y((i) => y(arr[i]));
        return <path key={'b' + s} d={line(idx) || ''} fill="none" stroke={botColors[s]} strokeWidth={2} strokeLinejoin="round" />;
      })}
    </g>
  );
}

function TopLegend() {
  const bx = 2156, by = 543, bw = 182, bh = 40;
  const rows = [550, 562, 574];
  return (
    <g fontFamily={FONT} fontSize={9.5}>
      <rect x={bx} y={by} width={bw} height={bh} rx={3} fill="#fff7e0" fillOpacity={0.85} stroke="#dcc49a" strokeWidth={1} />
      {topLegendPeak.map((t, i) => (
        <g key={'lp' + i}>
          <circle cx={2169} cy={rows[i]} r={2.1} fill={peakColors[i]} />
          <text x={2187} y={rows[i]} dominantBaseline="central">{t}</text>
        </g>
      ))}
      {topLegendAvg.map((t, i) => (
        <g key={'la' + i}>
          <line x1={2258} x2={2280} y1={rows[i]} y2={rows[i]} stroke={avgColors[i]} strokeWidth={3} strokeOpacity={0.85} />
          <text x={2286} y={rows[i]} dominantBaseline="central">{t}</text>
        </g>
      ))}
    </g>
  );
}

function BottomLegend() {
  const bx = 2277, by = 1103, bw = 61, bh = 41;
  const rows = [1111, 1123, 1135];
  return (
    <g fontFamily={FONT} fontSize={9.5}>
      <rect x={bx} y={by} width={bw} height={bh} rx={3} fill="#fff7e0" fillOpacity={0.85} stroke="#dcc49a" strokeWidth={1} />
      {bottomLegend.map((t, i) => (
        <g key={'lb' + i}>
          <line x1={2280} x2={2301} y1={rows[i]} y2={rows[i]} stroke={botColors[i]} strokeWidth={3} />
          <text x={2308} y={rows[i]} dominantBaseline="central">{t}</text>
        </g>
      ))}
    </g>
  );
}

export default function App() {
  return (
    <svg
      width={2400}
      height={1200}
      viewBox="0 0 2400 1200"
      style={{ position: 'absolute', left: 0, top: 0, display: 'block', background: '#fff' }}
    >
      <rect x={0} y={0} width={2400} height={1200} fill="#fff" />
      <text x={24} y={23} fontFamily={FONT} fontSize={14} fontWeight="bold">{mainTitle[0]}</text>
      <text x={24} y={38.5} fontFamily={FONT} fontSize={14} fontWeight="bold">{mainTitle[1]}</text>
      <Panel top={P1.top} bottom={P1.bottom} tickFmt="%H:%M" title={topTitle} titleY={75} clipId="clipTop" render={(s) => <TopContent {...s} />} />
      <Panel top={P2.top} bottom={P2.bottom} tickFmt="%H:%M:%S" title={bottomTitle} titleY={636} clipId="clipBot" render={(s) => <BottomContent {...s} />} />
      <TopLegend />
      <BottomLegend />
    </svg>
  );
}
